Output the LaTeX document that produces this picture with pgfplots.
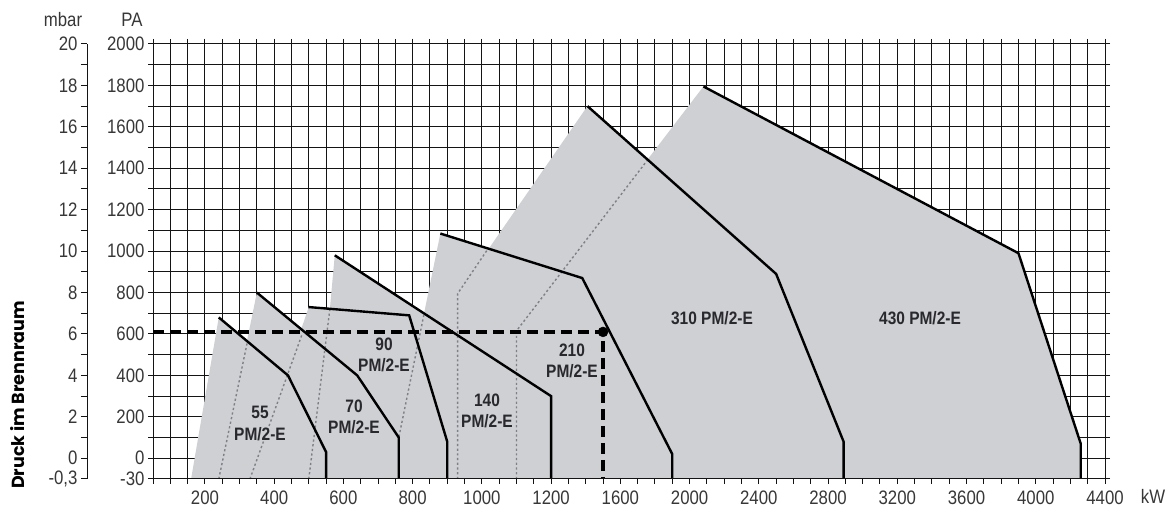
\documentclass[border=0pt]{standalone}
\usepackage{pgfplots}
\pgfplotsset{compat=1.18}
\usepackage{fontspec}
\setmainfont{Liberation Sans}
\newfontfamily\cond[FakeStretch=0.86]{Liberation Sans}
\newfontfamily\pop{Poppins}
\definecolor{fillgray}{RGB}{206,208,212}
\definecolor{gridc}{RGB}{20,20,20}
\definecolor{dotc}{RGB}{125,128,135}
\definecolor{txt}{RGB}{55,55,55}
\definecolor{lbl}{RGB}{40,40,45}
\begin{document}
\begin{tikzpicture}[x=1pt,y=1pt]
\useasboundingbox (0,0) rectangle (1172,508);
\begin{axis}[
  at={(153pt,29pt)}, anchor=south west,
  width=952pt, height=435pt, scale only axis,
  xmin=1, xmax=56, ymin=-100, ymax=2000,
  x filter/.expression={x<=1200 ? x/50 : 24+(x-1200)/100},
  y filter/.expression={y<0 ? y*10/3 : y},
  xtick={4,8,...,56},
  xticklabels={200,400,600,800,1000,1200,1600,2000,2400,2800,3200,3600,4000,4400},
  minor xtick={1,...,56},
  ytick={-100,0,100,...,2000},
  yticklabels={-30,0,,200,,400,,600,,800,,1000,,1200,,1400,,1600,,1800,,2000},
  grid=both,
  major grid style={gridc, line width=1pt},
  minor grid style={gridc, line width=1pt},
  axis line style={gridc, line width=1pt},
  tick style={gridc, line width=1pt},
  tick align=outside,
  major tick length=5pt, minor tick length=5pt,
  ticklabel style={font=\fontsize{19.5}{19.5}\selectfont\cond, text=txt},
  xticklabel style={yshift=-3pt},
  /pgf/number format/assume math mode=true,
  clip=false,
]
% working fields (filled)
\addplot[fill=fillgray, draw=none] coordinates {(160,-30) (240,680) (440,400) (550,30) (550,-30)} -- cycle;
\addplot[fill=fillgray, draw=none] coordinates {(240,-30) (350,800) (640,400) (760,100) (760,-30)} -- cycle;
\addplot[fill=fillgray, draw=none] coordinates {(330,-30) (500,730) (790,690) (900,80) (900,-30)} -- cycle;
\addplot[fill=fillgray, draw=none] coordinates {(500,-30) (561,722) (575,980) (1200,300) (1200,-30)} -- cycle;
\addplot[fill=fillgray, draw=none] coordinates {(760,-30) (760,100) (880,1085) (1380,870) (1900,20) (1900,-30)} -- cycle;
\addplot[fill=fillgray, draw=none] coordinates {(930,-30) (930,795) (1410,1700) (2500,890) (2890,80) (2890,-30)} -- cycle;
\addplot[fill=fillgray, draw=none] coordinates {(1100,-30) (1100,615) (2080,1795) (3900,990) (4260,70) (4260,-30)} -- cycle;
% hidden lower limits (dotted)
\addplot[dotc, line width=1.4pt, dash pattern=on 2.2pt off 2.5pt] coordinates {(240,-30) (322,557)};
\addplot[dotc, line width=1.4pt, dash pattern=on 2.2pt off 2.5pt] coordinates {(330,-30) (481,600)};
\addplot[dotc, line width=1.4pt, dash pattern=on 2.2pt off 2.5pt] coordinates {(500,-30) (561,722)};
\addplot[dotc, line width=1.4pt, dash pattern=on 2.2pt off 2.5pt] coordinates {(760,-30) (760,100) (833,697)};
\addplot[dotc, line width=1.4pt, dash pattern=on 2.2pt off 2.5pt] coordinates {(930,-30) (930,795) (1018,1012)};
\addplot[dotc, line width=1.4pt, dash pattern=on 2.2pt off 2.5pt] coordinates {(1100,-30) (1100,615) (1760,1443)};
% upper limits (solid)
\addplot[black, line width=2.4pt] coordinates {(240,680) (440,400) (550,30) (550,-30)};
\addplot[black, line width=2.4pt] coordinates {(350,800) (640,400) (760,100) (760,-30)};
\addplot[black, line width=2.4pt] coordinates {(500,730) (790,690) (900,80) (900,-30)};
\addplot[black, line width=2.4pt] coordinates {(575,980) (1200,300) (1200,-30)};
\addplot[black, line width=2.4pt] coordinates {(880,1085) (1380,870) (1900,20) (1900,-30)};
\addplot[black, line width=2.4pt] coordinates {(1410,1700) (2500,890) (2890,80) (2890,-30)};
\addplot[black, line width=2.4pt] coordinates {(2080,1795) (3900,990) (4260,70) (4260,-30)};
% example operating point
\addplot[black, line width=3.4pt, dash pattern=on 11pt off 6pt] coordinates {(50,610) (1500,610) (1500,-30)};
\addplot[only marks, mark=*, mark size=5pt, black] coordinates {(1500,610)};
\draw[gridc, line width=1pt] (rel axis cs:0,0) -- (rel axis cs:1,0);
\end{axis}
% mbar scale
\begin{axis}[
  at={(87pt,29pt)}, anchor=south west,
  width=10pt, height=435pt, scale only axis,
  xmin=0, xmax=1, ymin=-100, ymax=2000,
  hide x axis, axis y line*=left,
  y axis line style={gridc, line width=1pt, -},
  ytick={-100,0,100,...,2000},
  yticklabels={{-0,3},0,,2,,4,,6,,8,,10,,12,,14,,16,,18,,20},
  tick style={gridc, line width=1pt},
  tick align=outside, major tick length=6pt,
  ticklabel style={font=\fontsize{19.5}{19.5}\selectfont\cond, text=txt},
  /pgf/number format/assume math mode=true,
]
\addplot[draw=none] coordinates {(0,0)};
\end{axis}
\begin{scope}[every node/.style={font=\fontsize{18}{21.5}\selectfont\cond\bfseries, text=lbl, align=center}]
\node at (260,84.5) {55\\PM/2-E};
\node at (354,91) {70\\PM/2-E};
\node at (384,153) {90\\PM/2-E};
\node at (487,97) {140\\PM/2-E};
\node at (572,147) {210\\PM/2-E};
\node at (712,190) {310 PM/2-E};
\node at (920,190) {430 PM/2-E};
\end{scope}
\node[font=\fontsize{19.5}{19.5}\selectfont\cond, text=txt] at (63,488) {mbar};
\node[font=\fontsize{19.5}{19.5}\selectfont\cond, text=txt] at (132,488) {PA};
\node[font=\fontsize{19.5}{19.5}\selectfont\cond, text=txt] at (1153,12) {kW};
\node[rotate=90, font=\fontsize{17.5}{17.5}\selectfont\pop\bfseries] at (18,113) {Druck im Brennraum};
\end{tikzpicture}
\end{document}
